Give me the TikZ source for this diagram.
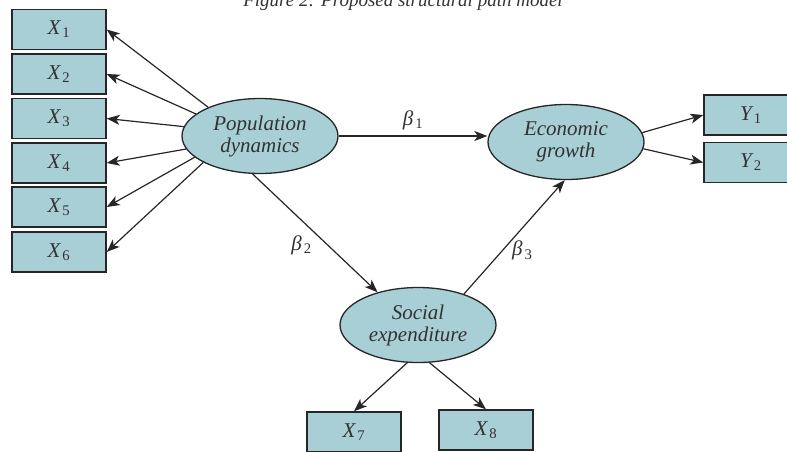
\documentclass[tikz,border=0pt]{standalone}
\usepackage{fontspec}
\setmainfont{Liberation Serif}
\usetikzlibrary{shapes.geometric,arrows.meta}
\definecolor{boxfill}{RGB}{168,207,214}
\definecolor{linegray}{RGB}{38,38,38}
\definecolor{textgray}{RGB}{50,50,50}
\newcommand{\lbl}[2]{#1\kern2pt\textsubscript{\upshape #2}}

\begin{document}
\begin{tikzpicture}[x=1pt,y=-1pt]
		\tikzstyle{ind} = [rectangle,draw=linegray,fill=boxfill,line width=1.4pt,minimum width=94pt,minimum height=40pt,text=textgray,font=\fontsize{21}{22}\selectfont\itshape]
		\tikzstyle{lat} = [ellipse,draw=linegray,fill=boxfill,line width=1.3pt,minimum width=156pt,minimum height=75pt,inner sep=0pt,align=center,text=textgray,font=\fontsize{21}{22}\selectfont\itshape]
		\tikzstyle{coef} = [font=\fontsize{21}{22}\selectfont\itshape,text=textgray]
		\tikzstyle{link} = [-{Stealth[length=13pt,width=10pt,inset=3.5pt]},draw=linegray,line width=1.2pt]
		
		\useasboundingbox (0,0) rectangle (787,451);
		\node[anchor=base,text=textgray,font=\fontsize{19}{22}\selectfont\itshape] (title) at (403,6.5) {Figure 2: Proposed structural path model};
		
		\node[ind] (x1) at (59,29.5) {\lbl{X}{1}};
		\node[ind] (x2) at (59,74) {\lbl{X}{2}};
		\node[ind] (x3) at (59,118.5) {\lbl{X}{3}};
		\node[ind] (x4) at (59,163) {\lbl{X}{4}};
		\node[ind] (x5) at (59,207) {\lbl{X}{5}};
		\node[ind] (x6) at (59,252) {\lbl{X}{6}};
		\node[ind] (y1) at (751,115) {\lbl{Y}{1}};
		\node[ind] (y2) at (751,162.5) {\lbl{Y}{2}};
		\node[ind] (x7) at (354,432) {\lbl{X}{7}};
		\node[ind] (x8) at (486,430) {\lbl{X}{8}};
		
		\node[lat] (pd) at (260,136) {Population\\dynamics};
		\node[lat] (eg) at (566,142) {Economic\\growth};
		\node[lat] (se) at (418,325) {Social\\expenditure};
		
		\foreach \i/\a in {1/151,2/161,3/173,4/190,5/198,6/205}
			\path (pd.\a) edge[link] (x\i.east);
		
		\path (pd.east) edge[link] node[coef,above=2pt] {\lbl{β}{1}} (pd.east -| eg.west);
		\path (pd.259) edge[link] node[coef,left=12pt,pos=0.6] {\lbl{β}{2}} (se.141);
		\path (se.34) edge[link] node[coef,right=6pt,pos=0.38] {\lbl{β}{3}} (eg.268);
		
		\path (eg.7) edge[link] (y1.west);
		\path (eg.355) edge[link] (y2.west);
		\path (se.254) edge[link] (x7.north);
		\path (se.287) edge[link] (x8.north);
	\end{tikzpicture}
\end{document}
